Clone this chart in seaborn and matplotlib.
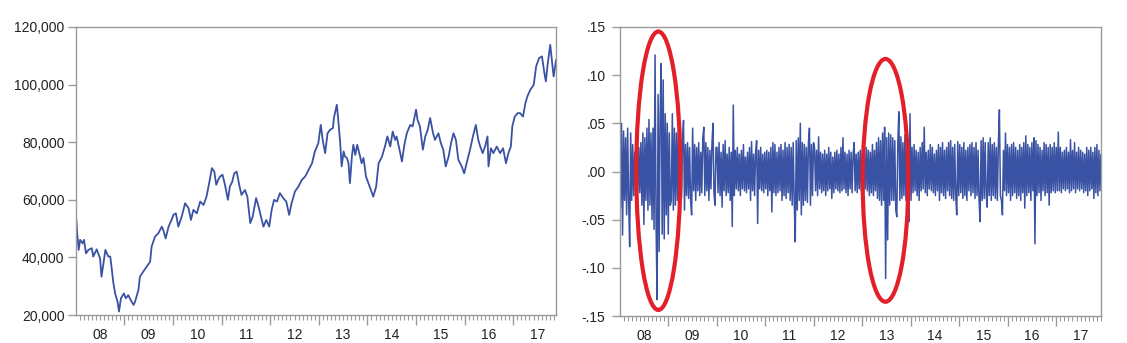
import numpy as np
import matplotlib
matplotlib.use("Agg")
import matplotlib.pyplot as plt
import seaborn as sns
from matplotlib.patches import Ellipse
from matplotlib.ticker import FixedLocator, FuncFormatter

# ---------------- data ----------------
year_labels = ["08", "09", "10", "11", "12", "13", "14", "15", "16", "17"]

price_years = [
    2008.01, 2008.03, 2008.06, 2008.09, 2008.14, 2008.17, 2008.21, 2008.26, 2008.33, 2008.36,
    2008.43, 2008.50, 2008.53, 2008.57, 2008.61, 2008.67, 2008.71, 2008.74, 2008.77, 2008.81,
    2008.86, 2008.89, 2008.93, 2008.99, 2009.03, 2009.08, 2009.13, 2009.19, 2009.22, 2009.29,
    2009.32, 2009.39, 2009.46, 2009.53, 2009.56, 2009.63, 2009.70, 2009.77, 2009.80, 2009.85,
    2009.91, 2009.97, 2010.01, 2010.06, 2010.11, 2010.18, 2010.25, 2010.32, 2010.37, 2010.42,
    2010.49, 2010.56, 2010.63, 2010.69, 2010.75, 2010.80, 2010.85, 2010.89, 2010.93, 2010.97,
    2011.02, 2011.07, 2011.13, 2011.17, 2011.22, 2011.26, 2011.31, 2011.37, 2011.41, 2011.48,
    2011.53, 2011.59, 2011.64, 2011.71, 2011.76, 2011.81, 2011.86, 2011.92, 2011.98, 2012.03,
    2012.08, 2012.14, 2012.20, 2012.27, 2012.33, 2012.39, 2012.44, 2012.51, 2012.58, 2012.65,
    2012.72, 2012.79, 2012.86, 2012.92, 2012.99, 2013.04, 2013.08, 2013.13, 2013.18, 2013.23,
    2013.29, 2013.31, 2013.37, 2013.40, 2013.44, 2013.47, 2013.51, 2013.54, 2013.58, 2013.61,
    2013.64, 2013.68, 2013.71, 2013.75, 2013.79, 2013.85, 2013.88, 2013.92, 2013.97, 2014.02,
    2014.07, 2014.12, 2014.18, 2014.23, 2014.30, 2014.36, 2014.41, 2014.47, 2014.52, 2014.57,
    2014.60, 2014.66, 2014.71, 2014.76, 2014.81, 2014.88, 2014.93, 2015.00, 2015.03, 2015.08,
    2015.14, 2015.19, 2015.24, 2015.29, 2015.35, 2015.39, 2015.46, 2015.51, 2015.56, 2015.61,
    2015.67, 2015.72, 2015.77, 2015.82, 2015.87, 2015.94, 2015.99, 2016.04, 2016.11, 2016.17,
    2016.23, 2016.28, 2016.32, 2016.37, 2016.42, 2016.47, 2016.49, 2016.54, 2016.59, 2016.66,
    2016.73, 2016.79, 2016.85, 2016.90, 2016.95, 2016.98, 2017.03, 2017.09, 2017.14, 2017.20,
    2017.25, 2017.29, 2017.35, 2017.42, 2017.47, 2017.53, 2017.59, 2017.64, 2017.67, 2017.71,
    2017.76, 2017.79, 2017.83, 2017.88,
]
price_values = [
    53600, 48400, 42600, 46100, 44900, 46100, 41400, 42600, 43200, 40300,
    42800, 39700, 33300, 38000, 42600, 40300, 40300, 36200, 31600, 27500,
    24600, 21200, 25800, 27500, 25800, 26900, 25200, 23500, 24600, 28700,
    33300, 35100, 36800, 38500, 43700, 47200, 48400, 50700, 49500, 46600,
    50700, 53000, 54800, 55300, 50700, 54200, 58800, 57100, 53000, 56500,
    55300, 59400, 58200, 61100, 66300, 71000, 69800, 65200, 66900, 68100,
    68700, 65200, 60000, 64600, 66300, 69200, 69800, 64600, 61700, 63400,
    61100, 51900, 54200, 60600, 57700, 54200, 50700, 53000, 50700, 56500,
    60000, 59400, 62300, 60550, 59400, 54750, 58800, 62900, 64600, 66900,
    68100, 70400, 72700, 76800, 79700, 86000, 80800, 76200, 83100, 84300,
    84900, 88400, 93000, 87800, 79700, 71600, 76800, 75000, 74500, 72700,
    65800, 75000, 79100, 75600, 79100, 75000, 72700, 74500, 68100, 65800,
    63500, 61100, 64600, 72700, 75000, 78500, 82000, 78500, 83700, 80800,
    82000, 77400, 73300, 79100, 83100, 86000, 85500, 91300, 87800, 85500,
    77400, 82000, 84300, 88400, 83100, 80800, 83100, 79700, 77400, 71600,
    75000, 79700, 83100, 80800, 73900, 71600, 69200, 72700, 77400, 82000,
    86000, 80800, 78500, 76200, 78500, 82000, 71600, 77900, 76200, 78500,
    76200, 77900, 72700, 76200, 78500, 85500, 88900, 90100, 90100, 88900,
    93600, 95900, 98200, 99900, 106300, 109200, 109800, 104000, 101100, 107500,
    113800, 109200, 102800, 108600,
]

ret_2008 = [0.010, -0.038, 0.050, -0.066, 0.042, -0.030, 0.035, -0.045, 0.045, -0.032,
            -0.078, 0.040, -0.030, 0.028, -0.025, 0.020, -0.022, 0.018, -0.020, 0.025,
            -0.022, 0.030, -0.035, 0.040, -0.055, 0.035, -0.030, 0.045, -0.040, 0.054,
            -0.035, 0.040, -0.050, 0.045, -0.060, 0.121, -0.055, -0.133, 0.080, -0.083,
            0.060, 0.112, -0.065, 0.095, -0.070, 0.060, -0.045, 0.050]
ret_2009 = [-0.065, 0.040, -0.035, -0.030, 0.060, -0.040, 0.045, -0.035, 0.040, -0.030,
            0.048, -0.030, 0.035, -0.028, 0.030, 0.053, -0.040, 0.028, -0.025, 0.030,
            -0.028, 0.025, -0.030, -0.045, 0.045, -0.020, 0.028, -0.030, 0.025, -0.020,
            0.030, -0.025, 0.020, -0.022, 0.035, 0.046, -0.025, 0.030, -0.020, 0.025,
            -0.030, 0.022, -0.018, 0.028, 0.050, -0.022, -0.035, 0.025]
ret_2010 = [0.025, -0.022, 0.030, -0.025, 0.020, -0.037, 0.028, -0.020, 0.032, -0.025,
            0.018, -0.022, 0.025, -0.030, 0.020, -0.057, 0.069, -0.025, 0.022, -0.018,
            0.025, -0.020, 0.018, -0.025, 0.022, -0.018, 0.028, -0.020, 0.015, -0.022,
            0.020, -0.018, 0.025, -0.030, 0.031, -0.020, 0.018, -0.025, 0.020, 0.032,
            -0.054, 0.022, -0.018, 0.025, -0.020, 0.018, -0.022, 0.020]
ret_2011 = [-0.018, 0.022, -0.025, 0.020, -0.020, 0.025, -0.042, 0.030, -0.022, 0.028,
            -0.025, 0.020, -0.022, 0.025, -0.020, 0.028, -0.030, 0.022, -0.025, 0.030,
            -0.028, 0.025, -0.022, 0.028, -0.030, 0.025, -0.035, 0.030, -0.030, -0.073,
            0.032, -0.040, 0.035, -0.030, 0.050, -0.045, 0.030, -0.035, 0.028, -0.030,
            0.025, -0.032, 0.030, 0.045, -0.035, 0.028, -0.025, 0.030]
ret_2012 = [0.025, -0.020, 0.022, -0.025, 0.036, -0.018, 0.020, -0.022, 0.018, -0.020,
            0.022, -0.025, 0.018, -0.020, 0.025, -0.018, 0.020, -0.028, 0.015, -0.022,
            0.020, -0.018, 0.022, -0.020, 0.018, -0.022, 0.025, -0.020, 0.035, -0.018,
            0.020, -0.022, 0.018, -0.025, 0.022, -0.018, 0.020, -0.022, 0.018, 0.030,
            -0.020, 0.018, -0.022, 0.020, -0.018, 0.022, -0.020, 0.018]
ret_2013 = [-0.022, 0.020, -0.018, 0.025, -0.020, 0.022, -0.025, 0.020, -0.022, 0.028,
            -0.025, 0.022, -0.020, 0.030, -0.028, 0.035, -0.030, 0.032, -0.035, 0.040,
            -0.030, 0.046, -0.111, 0.035, -0.071, 0.040, -0.035, 0.038, -0.030, 0.035,
            -0.030, 0.032, -0.040, -0.047, 0.030, 0.062, -0.030, 0.036, -0.028, 0.030,
            -0.025, 0.038, -0.030, 0.028, -0.025, -0.052, 0.060, -0.030]
ret_2014 = [0.025, -0.022, 0.028, -0.020, 0.022, -0.025, 0.020, -0.030, 0.025, -0.020,
            0.030, -0.018, 0.046, -0.022, 0.020, -0.025, 0.022, -0.018, 0.028, -0.020,
            0.025, -0.022, 0.018, -0.025, 0.022, -0.020, 0.028, -0.030, 0.025, -0.022,
            0.030, -0.025, 0.022, -0.028, 0.025, -0.020, 0.030, -0.025, 0.032, -0.028,
            0.025, -0.030, 0.028, -0.025, -0.045, 0.031, -0.025, 0.028]
ret_2015 = [-0.022, 0.025, -0.028, 0.030, -0.025, 0.022, -0.030, 0.025, -0.020, 0.028,
            -0.025, 0.030, -0.022, 0.025, -0.028, 0.030, -0.025, 0.022, -0.030, -0.052,
            0.032, -0.030, 0.035, -0.028, 0.030, -0.025, -0.037, 0.030, -0.025, 0.035,
            -0.030, 0.028, -0.025, 0.030, -0.028, 0.025, -0.030, 0.028, 0.064, -0.025,
            -0.030, -0.045, 0.022, -0.020, 0.040, -0.025, 0.028, -0.022]
ret_2016 = [0.025, -0.030, 0.028, -0.025, 0.030, -0.022, 0.025, -0.028, 0.022, -0.025,
            0.028, -0.030, 0.025, -0.022, 0.030, -0.038, 0.037, -0.025, 0.028, -0.022,
            0.025, -0.030, 0.030, -0.020, 0.035, -0.075, 0.032, -0.025, 0.028, -0.022,
            0.025, -0.030, 0.022, -0.020, 0.030, -0.025, 0.028, -0.022, 0.025, -0.035,
            0.028, -0.022, 0.025, -0.020, 0.030, -0.022, 0.025, -0.020]
ret_2017 = [0.041, -0.020, 0.025, -0.022, 0.020, -0.018, 0.022, -0.020, 0.025, -0.018,
            0.020, -0.022, 0.033, -0.020, 0.022, -0.018, 0.030, -0.022, 0.020, -0.018,
            0.025, -0.020, 0.022, -0.018, 0.020, -0.022, 0.018, -0.020, 0.025, -0.025,
            0.022, -0.020, 0.025, -0.018, 0.020, -0.028, 0.025, -0.022, 0.028, -0.025,
            0.022, -0.020, 0.018]

# ---------------- styling ----------------
LINE = "#3a52a3"
SPINE = "#9a9a9a"
RED = "#e3202a"

sns.set_style("white")
plt.rcParams["font.family"] = ["Liberation Sans", "DejaVu Sans"]

fig = plt.figure(figsize=(11.27, 3.43), dpi=100)
ax1 = fig.add_axes([0.0672, 0.0816, 0.4262, 0.8397])
ax2 = fig.add_axes([0.5497, 0.0787, 0.4272, 0.8426])

returns = np.concatenate([ret_2008, ret_2009, ret_2010, ret_2011, ret_2012,
                          ret_2013, ret_2014, ret_2015, ret_2016, ret_2017])
ret_x = np.linspace(2008.0, 2017.92, len(returns))

sns.lineplot(x=price_years, y=price_values, ax=ax1, color=LINE, linewidth=1.3,
             estimator=None, sort=False)
sns.lineplot(x=ret_x, y=returns, ax=ax2, color=LINE, linewidth=1.1,
             estimator=None, sort=False)


def style(ax, xmax):
    ax.set_xlim(2008.0, xmax)
    ax.set_xlabel("")
    ax.set_ylabel("")
    for s in ax.spines.values():
        s.set_visible(True)
        s.set_color(SPINE)
        s.set_linewidth(1.0)
    ax.xaxis.set_major_locator(FixedLocator(list(range(2009, 2018))))
    ax.xaxis.set_minor_locator(FixedLocator([2008 + m / 12 for m in range(1, 12 * 10)]))
    ax.tick_params(axis="x", which="major", bottom=True, length=7, width=1,
                   color=SPINE, labelbottom=False, direction="out")
    ax.tick_params(axis="x", which="minor", bottom=True, length=3.5, width=0.8,
                   color=SPINE, direction="out")
    ax.tick_params(axis="y", which="major", left=True, length=6, width=1,
                   color=SPINE, labelsize=10, labelcolor="#222222", pad=2,
                   direction="out")
    sec = ax.secondary_xaxis("bottom")
    sec.set_xticks([2008.5 + i for i in range(len(year_labels))])
    sec.set_xticklabels(year_labels)
    sec.tick_params(length=0, pad=9, labelsize=10, labelcolor="#222222")
    sec.spines["bottom"].set_visible(False)


style(ax1, 2017.88)
style(ax2, 2017.92)

ax1.set_ylim(20000, 120000)
ax1.yaxis.set_major_locator(FixedLocator([20000, 40000, 60000, 80000, 100000, 120000]))
ax1.yaxis.set_major_formatter(FuncFormatter(lambda v, p: f"{int(v):,}"))

ax2.set_ylim(-0.15, 0.15)
ax2.yaxis.set_major_locator(FixedLocator([-0.15, -0.10, -0.05, 0.0, 0.05, 0.10, 0.15]))


def fmt_ret(v, p):
    s = f"{abs(v):.2f}".lstrip("0")
    return ("-" + s) if v < -1e-9 else s


ax2.yaxis.set_major_formatter(FuncFormatter(fmt_ret))
ax2.tick_params(axis="y", pad=4)

# red highlight ellipses
ax2.add_patch(Ellipse((2008.80, 0.0008), 0.91, 0.289, fill=False,
                      edgecolor=RED, linewidth=3, zorder=5))
ax2.add_patch(Ellipse((2013.48, -0.0092), 0.94, 0.252, fill=False,
                      edgecolor=RED, linewidth=3, zorder=5))

fig.savefig("out.png", dpi=100, facecolor="white")
